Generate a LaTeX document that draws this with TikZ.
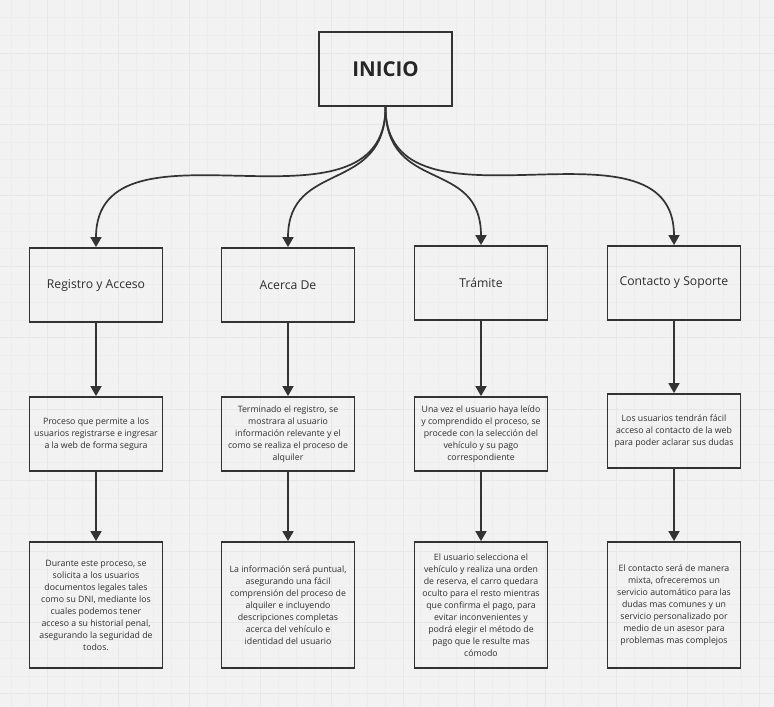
\documentclass[tikz,border=0pt]{standalone}
\usepackage{fontspec}
\setmainfont{Open Sans}
\usetikzlibrary{arrows.meta}
\definecolor{bgc}{HTML}{F2F2F2}
\definecolor{gridminor}{HTML}{EDEDED}
\definecolor{gridmajor}{HTML}{E7E7E7}
\definecolor{ink}{HTML}{333333}
\definecolor{txt}{HTML}{2E2E2E}
\tikzset{
  box/.style={draw=ink, line width=1.8pt, rectangle, align=center, text=txt, inner sep=0pt},
  titlebox/.style={box, minimum width=133pt, minimum height=74pt, font=\fontsize{12.2}{14}\selectfont},
  descbox/.style={box, minimum width=133pt, minimum height=74pt, font=\fontsize{8.75}{12}\selectfont},
  longbox/.style={box, minimum width=133pt, minimum height=126pt, font=\fontsize{8.75}{12}\selectfont},
  conn/.style={draw=ink, line width=1.7pt, -{Triangle[length=10pt,width=11pt]}}
}
\begin{document}
\begin{tikzpicture}[x=1pt,y=-1pt]
\useasboundingbox (0,0) rectangle (774,707);
\fill[bgc] (0,0) rectangle (774,707);
% grid
\foreach \k in {0,...,43} {
  \draw[gridminor, line width=0.8pt] ({11.4+17.8*\k},0) -- ({11.4+17.8*\k},707);
}
\foreach \k in {0,...,40} {
  \draw[gridminor, line width=0.8pt] (0,{17.4+17.8*\k}) -- (774,{17.4+17.8*\k});
}
\foreach \k in {0,...,10} {
  \draw[gridmajor, line width=1pt] ({47+71.2*\k},0) -- ({47+71.2*\k},707);
  \draw[gridmajor, line width=1pt] (0,{53+71.2*\k}) -- (774,{53+71.2*\k});
}

% start node
\node[box, minimum width=133pt, minimum height=74pt, font=\fontsize{20.5}{24}\bfseries\selectfont, text=black!85] (inicio) at (385.5,69) {INICIO};

% row 1
\node[titlebox] (reg) at (96,285) {Registro y Acceso};
\node[titlebox] (acerca) at (288,285) {Acerca De};
\node[titlebox] (tram) at (481,283) {Trámite};
\node[titlebox] (cont) at (674,283) {Contacto y Soporte};

% row 2
\node[descbox] (reg2) at (96,434) {Proceso que permite a los\\usuarios registrarse e ingresar\\a la web de forma segura};
\node[descbox] (acerca2) at (288,434) {Terminado el registro, se\\mostrara al usuario\\información relevante y el\\como se realiza el proceso de\\alquiler};
\node[descbox] (tram2) at (481,434) {Una vez el usuario haya leído\\y comprendido el proceso, se\\procede con la selección del\\vehículo y su pago\\correspondiente};
\node[descbox] (cont2) at (674,431) {Los usuarios tendrán fácil\\acceso al contacto de la web\\para poder aclarar sus dudas};

% row 3
\node[longbox] (reg3) at (96,605) {Durante este proceso, se\\solicita a los usuarios\\documentos legales tales\\como su DNI, mediante los\\cuales podemos tener\\acceso a su historial penal,\\asegurando la seguridad de\\todos.};
\node[longbox] (acerca3) at (288,605) {La información será puntual,\\asegurando una fácil\\comprensión del proceso de\\alquiler e incluyendo\\descripciones completas\\acerca del vehículo e\\identidad del usuario};
\node[longbox] (tram3) at (481,605) {El usuario selecciona el\\vehículo y realiza una orden\\de reserva, el carro quedara\\oculto para el resto mientras\\que confirma el pago, para\\evitar inconvenientes y\\podrá elegir el método de\\pago que le resulte mas\\cómodo};
\node[longbox] (cont3) at (674,605) {El contacto será de manera\\mixta, ofreceremos un\\servicio automático para las\\dudas mas comunes y un\\servicio personalizado por\\medio de un asesor para\\problemas mas complejos};

% curved connectors
\draw[conn] (inicio.south) .. controls +(0,142) and +(0,-142) .. (reg.north);
\draw[conn] (inicio.south) .. controls +(0,88) and +(0,-88) .. (acerca.north);
\draw[conn] (inicio.south) .. controls +(0,88) and +(0,-88) .. (tram.north);
\draw[conn] (inicio.south) .. controls +(0,141) and +(0,-141) .. (cont.north);

% vertical connectors
\draw[conn] (reg.south) -- (reg2.north);
\draw[conn] (acerca.south) -- (acerca2.north);
\draw[conn] (tram.south) -- (tram2.north);
\draw[conn] (cont.south) -- (cont2.north);
\draw[conn] (reg2.south) -- (reg3.north);
\draw[conn] (acerca2.south) -- (acerca3.north);
\draw[conn] (tram2.south) -- (tram3.north);
\draw[conn] (cont2.south) -- (cont3.north);
\end{tikzpicture}
\end{document}
